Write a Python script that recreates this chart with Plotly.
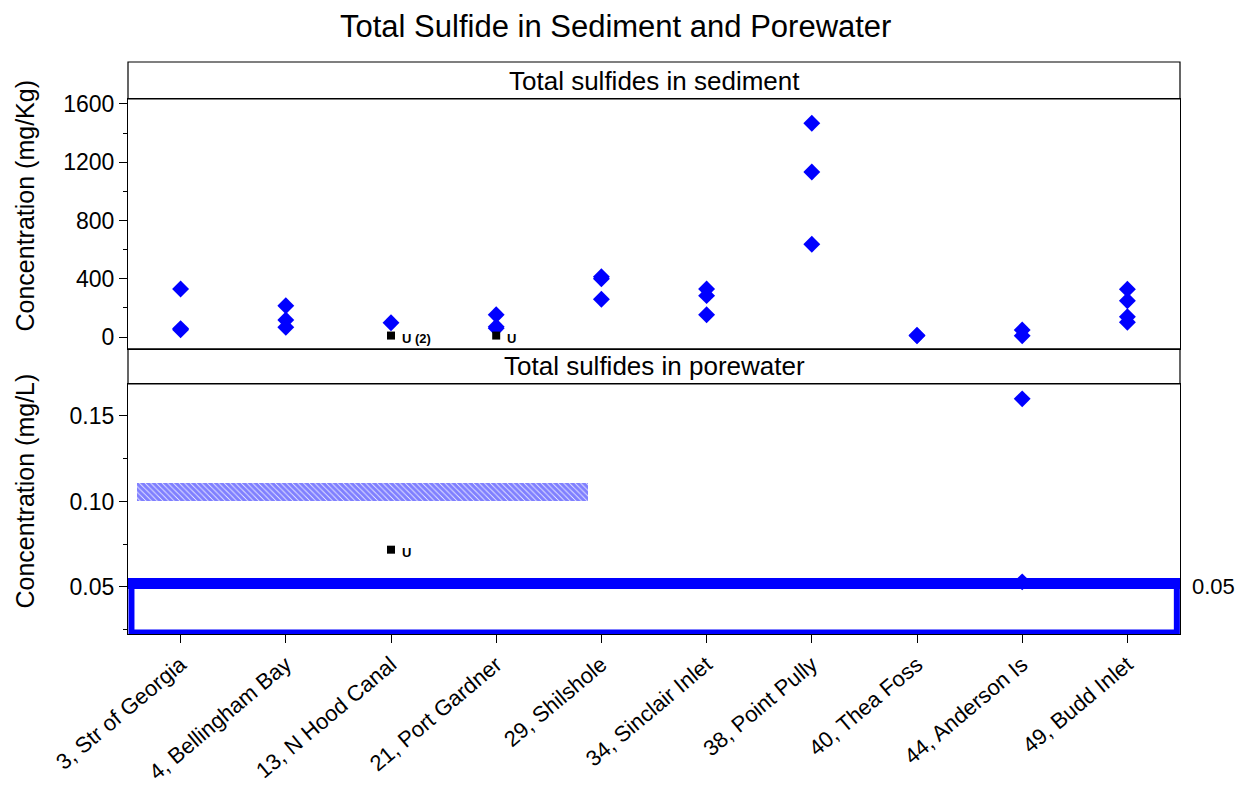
import plotly.graph_objects as go

# ---------------- data ----------------
sites = ["3, Str of Georgia", "4, Bellingham Bay", "13, N Hood Canal", "21, Port Gardner",
         "29, Shilshole", "34, Sinclair Inlet", "38, Point Pully", "40, Thea Foss",
         "44, Anderson Is", "49, Budd Inlet"]

# sediment total sulfides (mg/Kg), detected
sed_site_idx = [0, 0, 0, 1, 1, 1, 2, 3, 3, 3, 4, 4, 4, 5, 5, 5, 6, 6, 6, 7, 7, 8, 8, 9, 9, 9, 9]
sed_values = [330, 58, 50, 215, 117, 67, 98, 153, 71, 60, 414, 400, 259, 330, 284, 153,
              1468, 1133, 637, 12, 8, 48, 8, 328, 249, 139, 101]

# sediment non-detects (U)
sed_u_idx = [2, 3]
sed_u_values = [10, 10]
sed_u_labels = ["U (2)", "U"]

# porewater total sulfides (mg/L), detected
pw_site_idx = [8, 8]
pw_values = [0.160, 0.053]

# porewater non-detects (U)
pw_u_idx = [2]
pw_u_values = [0.0718]
pw_u_labels = ["U"]

# hatched range band (mg/L)
band_low, band_high = 0.100, 0.111
band_x0, band_x1 = -0.41, 3.87

# detection limit reference (mg/L)
detect_limit = 0.05
detect_label = "0.05"

# axes
sed_range = [-82, 1634]
sed_ticks = [0, 400, 800, 1200, 1600]
pw_range = [0.0225, 0.1687]
pw_ticks = [0.05, 0.10, 0.15]

FONT = "Liberation Sans, Arial, sans-serif"
BLUE = "#0000ff"

fig = go.Figure()

# hatched band (bottom panel)
fig.add_trace(go.Bar(
    x=[(band_x0 + band_x1) / 2], y=[band_high - band_low], base=[band_low],
    width=[band_x1 - band_x0], xaxis="x", yaxis="y",
    marker=dict(color="white", line=dict(width=0),
                pattern=dict(shape="\\", fgcolor=BLUE, bgcolor="white", size=4, solidity=0.8)),
    showlegend=False, hoverinfo="skip"))

# sediment detected
fig.add_trace(go.Scatter(
    x=sed_site_idx, y=sed_values, mode="markers", xaxis="x2", yaxis="y2",
    marker=dict(symbol="diamond", size=13, color=BLUE), showlegend=False))
# sediment U
fig.add_trace(go.Scatter(
    x=sed_u_idx, y=sed_u_values, mode="markers", xaxis="x2", yaxis="y2",
    marker=dict(symbol="square", size=8, color="black"), showlegend=False))
# porewater detected
fig.add_trace(go.Scatter(
    x=pw_site_idx, y=pw_values, mode="markers", xaxis="x", yaxis="y",
    marker=dict(symbol="diamond", size=13, color=BLUE), showlegend=False))
# porewater U
fig.add_trace(go.Scatter(
    x=pw_u_idx, y=pw_u_values, mode="markers", xaxis="x", yaxis="y",
    marker=dict(symbol="square", size=8, color="black"), showlegend=False))

annotations = []
for xi, yv, lab in zip(sed_u_idx, sed_u_values, sed_u_labels):
    annotations.append(dict(x=xi, y=yv, xref="x2", yref="y2", text="<b>%s</b>" % lab,
                            showarrow=False, xanchor="left", yanchor="middle", xshift=9, yshift=-3,
                            font=dict(family=FONT, size=13, color="black")))
for xi, yv, lab in zip(pw_u_idx, pw_u_values, pw_u_labels):
    annotations.append(dict(x=xi, y=yv, xref="x", yref="y", text="<b>%s</b>" % lab,
                            showarrow=False, xanchor="left", yanchor="middle", xshift=9, yshift=-3,
                            font=dict(family=FONT, size=13, color="black")))

# main title (as annotation)
annotations.append(dict(x=0.463, y=1.0, xref="paper", yref="paper",
                        text="Total Sulfide in Sediment and Porewater", showarrow=False,
                        xanchor="center", yanchor="middle", yshift=36,
                        font=dict(family=FONT, size=31, color="black")))

# strip labels
top_dom = [0.4983, 0.9353]
bot_dom = [0.0, 0.4371]
annotations.append(dict(x=0.5, y=(top_dom[1] + 1.0) / 2, xref="paper", yref="paper",
                        text="Total sulfides in sediment", showarrow=False,
                        xanchor="center", yanchor="middle",
                        font=dict(family=FONT, size=26, color="black")))
annotations.append(dict(x=0.5, y=(bot_dom[1] + top_dom[0]) / 2, xref="paper", yref="paper",
                        text="Total sulfides in porewater", showarrow=False,
                        xanchor="center", yanchor="middle",
                        font=dict(family=FONT, size=26, color="black")))
# y axis titles
annotations.append(dict(x=-0.0979, y=(top_dom[0] + 1.0) / 2, xref="paper", yref="paper",
                        text="Concentration (mg/Kg)", showarrow=False, textangle=-90,
                        xanchor="center", yanchor="middle",
                        font=dict(family=FONT, size=25, color="black")))
annotations.append(dict(x=-0.0979, y=(bot_dom[0] + top_dom[0]) / 2, xref="paper", yref="paper",
                        text="Concentration (mg/L)", showarrow=False, textangle=-90,
                        xanchor="center", yanchor="middle",
                        font=dict(family=FONT, size=25, color="black")))
# detection limit label
annotations.append(dict(x=1, y=detect_limit, xref="paper", yref="y", text=detect_label,
                        showarrow=False, xanchor="left", yanchor="middle", xshift=10,
                        font=dict(family=FONT, size=22, color="black")))

shapes = [
    # strips
    dict(type="rect", xref="paper", yref="paper", x0=0, x1=1, y0=top_dom[1], y1=1.0,
         line=dict(color="black", width=1.2), fillcolor="white", layer="below"),
    dict(type="rect", xref="paper", yref="paper", x0=0, x1=1, y0=bot_dom[1], y1=top_dom[0],
         line=dict(color="black", width=1.2), fillcolor="white", layer="below"),
    # detection limit box
    dict(type="rect", xref="x", yref="y", x0=-0.467, x1=9.47, y0=0.0234, y1=detect_limit + 0.002,
         line=dict(color=BLUE, width=6), fillcolor="rgba(0,0,0,0)", layer="above"),
    dict(type="line", xref="x", yref="y", x0=-0.5, x1=9.5, y0=detect_limit + 0.002,
         y1=detect_limit + 0.002, line=dict(color=BLUE, width=11), layer="above"),
]

axis_common = dict(showline=True, linecolor="black", linewidth=1.2, mirror=True,
                   showgrid=False, zeroline=False, automargin=False)

# page body adds an 8px offset, so the figure is 8px smaller and margins shifted
W, H = 1239, 777
fig.update_layout(
    width=W, height=H,
    margin=dict(l=120, r=67, t=54, b=151, pad=0, autoexpand=False),
    paper_bgcolor="white", plot_bgcolor="white",
    showlegend=False,
    xaxis=dict(domain=[0, 1], anchor="y", range=[-0.5, 9.5], tickmode="array",
               tickvals=list(range(len(sites))), ticktext=sites, tickangle=-40,
               ticks="outside", ticklen=8, tickcolor="black",
               tickfont=dict(family=FONT, size=22, color="black"), **axis_common),
    xaxis2=dict(domain=[0, 1], anchor="y2", range=[-0.5, 9.5], matches="x",
                showticklabels=False, ticks="", **axis_common),
    yaxis=dict(domain=bot_dom, anchor="x", range=pw_range, tickmode="array",
               tickvals=pw_ticks, tickformat=".2f", ticks="outside", ticklen=8,
               tickcolor="black", tickfont=dict(family=FONT, size=23, color="black"),
               minor=dict(dtick=0.025, tick0=0, ticks="outside", ticklen=4, tickcolor="black"),
               **axis_common),
    yaxis2=dict(domain=top_dom, anchor="x2", range=sed_range, tickmode="array",
                tickvals=sed_ticks, ticks="outside", ticklen=8, tickcolor="black",
                tickfont=dict(family=FONT, size=23, color="black"),
                minor=dict(dtick=200, tick0=0, ticks="outside", ticklen=4, tickcolor="black"),
                **axis_common),
    annotations=annotations,
    shapes=shapes,
    bargap=0,
)

fig.write_html("out.html")
